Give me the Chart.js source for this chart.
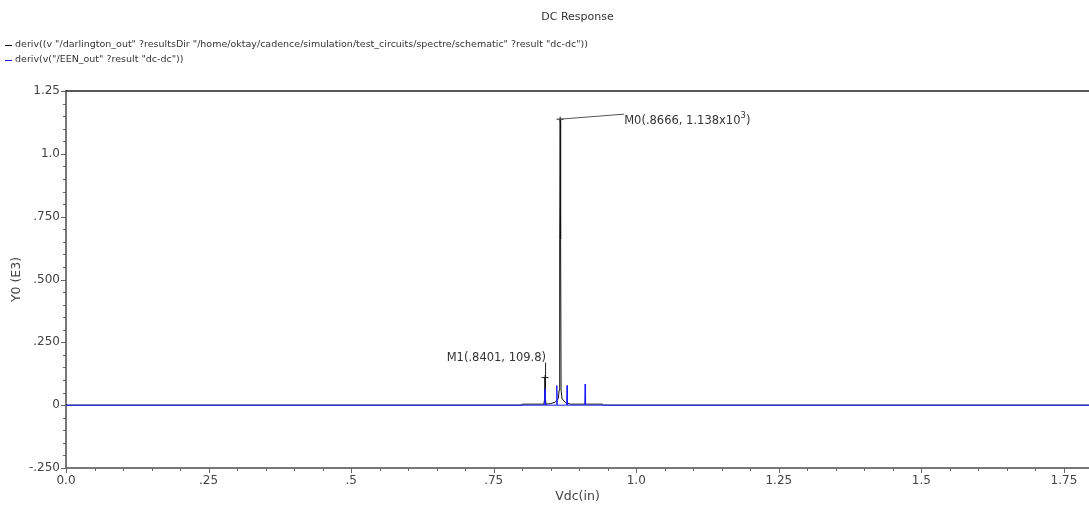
<!DOCTYPE html>
<html>
<head>
<meta charset="utf-8">
<title>DC Response</title>
<script src="https://cdn.jsdelivr.net/npm/chart.js@4/dist/chart.umd.min.js"></script>
<style>
	html, body { margin: 0; padding: 0; background: #fff; }
	#wrap { width: 1089px; height: 507px; position: relative; }
</style>
</head>
<body>
<div id="wrap"><canvas id="chart"></canvas></div>
<script>
// axis ranges and tick text (Y values are in units of 1e3)
const x_min = 0;
const x_max = 1.794;
const y_min = -0.25;
const y_max = 1.25;
const x_tick_labels = ["0.0", ".25", ".5", ".75", "1.0", "1.25", "1.5", "1.75"];
const y_tick_labels = ["-.250", "0", ".250", ".500", ".750", "1.0", "1.25"];

const chart_title = "DC Response";
const x_title = "Vdc(in)";
const y_title = "Y0 (E3)";

const series_names = [
	'deriv((v "/darlington_out" ?resultsDir "/home/oktay/cadence/simulation/test_circuits/spectre/schematic" ?result "dc-dc"))',
	'deriv(v("/EEN_out" ?result "dc-dc"))'
];
const series_colors = ["#111111", "#1a1aff"];

// d/dVin of darlington_out
const darlington_x = [0, 0.799, 0.800, 0.8380, 0.8397, 0.8401, 0.8405, 0.8420, 0.8500, 0.8580, 0.8630, 0.8650, 0.8655, 0.8661, 0.8666, 0.8671, 0.8677, 0.8682, 0.8700, 0.8760, 0.8850, 0.9410, 0.9420, 1.794];
const darlington_y = [0, 0, 0.004, 0.004, 0.03, 0.1098, 0.03, 0.004, 0.006, 0.012, 0.025, 0.06, 0.66, 0.66, 1.138, 0.66, 0.66, 0.06, 0.025, 0.010, 0.004, 0.004, 0, 0];

// d/dVin of EEN_out
const een_x = [0, 0.8395, 0.8401, 0.8407, 0.8600, 0.8607, 0.8614, 0.8780, 0.8787, 0.8794, 0.9097, 0.9104, 0.9111, 1.794];
const een_y = [0, 0, 0.065, 0, 0, 0.078, 0, 0, 0.078, 0, 0, 0.084, 0, 0];

// markers placed on the darlington trace
const marker_names = ["M0", "M1"];
const marker_x = [0.8666, 0.8401];
const marker_y = [1.138, 0.1098];

const font_family = "'DejaVu Sans', Verdana, sans-serif";
const text_color = "#333";

function to_points(xs, ys) {
	return xs.map((x, i) => ({ x: x, y: ys[i] }));
}

function short_num(v) {
	return v.toString().replace(/^0\./, ".");
}

function stroke_line(ctx, x1, y1, x2, y2) {
	ctx.beginPath();
	ctx.moveTo(x1, y1);
	ctx.lineTo(x2, y2);
	ctx.stroke();
}

function draw_cross(ctx, x, y) {
	stroke_line(ctx, x - 3.5, y, x + 3.5, y);
	stroke_line(ctx, x, y - 2.5, x, y + 2.5);
}

const decorations = {
	id: "decorations",
	afterDraw(chart) {
		const ctx = chart.ctx;
		const area = chart.chartArea;
		const xs = chart.scales.x;
		const ys = chart.scales.y;
		ctx.save();

		// frame line along the top of the plot
		ctx.strokeStyle = "#222";
		ctx.lineWidth = 1.5;
		stroke_line(ctx, area.left, area.top, area.right, area.top);

		// major/minor tick marks
		ctx.strokeStyle = "#666";
		ctx.lineWidth = 1;
		for (let i = 0; i * 0.05 <= x_max + 1e-9; i++) {
			const px = Math.round(xs.getPixelForValue(i * 0.05)) + 0.5;
			const len = i % 5 == 0 ? 5 : 3;
			stroke_line(ctx, px, area.bottom, px, area.bottom + len);
		}
		for (let i = 0; y_min + i * 0.05 <= y_max + 1e-9; i++) {
			const py = Math.round(ys.getPixelForValue(y_min + i * 0.05)) + 0.5;
			const len = i % 5 == 0 ? 5 : 3;
			stroke_line(ctx, area.left - len, py, area.left, py);
		}

		// title
		ctx.fillStyle = text_color;
		ctx.font = "11px " + font_family;
		ctx.textAlign = "center";
		ctx.textBaseline = "middle";
		ctx.fillText(chart_title, (area.left + area.right) / 2, 17);

		// legend rows
		ctx.font = "9.5px " + font_family;
		ctx.textAlign = "left";
		series_names.forEach((name, i) => {
			const y = 45 + i * 15;
			ctx.strokeStyle = series_colors[i];
			stroke_line(ctx, 5, y + 0.5, 12, y + 0.5);
			ctx.fillStyle = text_color;
			ctx.fillText(name, 15, y);
		});

		// markers with leader lines
		ctx.strokeStyle = "#222";
		ctx.fillStyle = text_color;
		ctx.font = "11.5px " + font_family;
		const mx0 = xs.getPixelForValue(marker_x[0]);
		const my0 = ys.getPixelForValue(marker_y[0]);
		draw_cross(ctx, mx0, my0);
		ctx.strokeStyle = "#555";
		stroke_line(ctx, mx0, my0, mx0 + 64, my0 - 5);
		let tx = mx0 + 64;
		const ty = my0 + 2;
		const head = marker_names[0] + "(" + short_num(marker_x[0]) + ", " + marker_y[0].toFixed(3) + "x10";
		ctx.textAlign = "left";
		ctx.fillText(head, tx, ty);
		tx += ctx.measureText(head).width;
		ctx.font = "8.5px " + font_family;
		ctx.fillText("3", tx, ty - 5);
		tx += ctx.measureText("3").width;
		ctx.font = "11.5px " + font_family;
		ctx.fillText(")", tx, ty);

		const mx1 = xs.getPixelForValue(marker_x[1]);
		const my1 = ys.getPixelForValue(marker_y[1]);
		ctx.strokeStyle = "#222";
		draw_cross(ctx, mx1, my1);
		stroke_line(ctx, mx1 + 0.5, my1, mx1 + 0.5, my1 - 15);
		ctx.textAlign = "right";
		const m1_text = marker_names[1] + "(" + short_num(marker_x[1]) + ", " + (marker_y[1] * 1000).toFixed(1) + ")";
		ctx.fillText(m1_text, mx1 + 1, my1 - 20);

		ctx.restore();
	}
};

const ctx = document.getElementById("chart");

const data = {
	datasets: [{
		label: series_names[0],
		data: to_points(darlington_x, darlington_y),
		borderColor: series_colors[0],
		borderWidth: 1,
		pointRadius: 0,
		showLine: true,
		order: 2
	}, {
		label: series_names[1],
		data: to_points(een_x, een_y),
		borderColor: series_colors[1],
		borderWidth: 1,
		pointRadius: 0,
		showLine: true,
		order: 1
	}]
};

const options = {
	responsive: true,
	maintainAspectRatio: false,
	animation: false,
	devicePixelRatio: 1,
	layout: {
		padding: { top: 91, left: 0, right: 0, bottom: 0 }
	},
	scales: {
		x: {
			type: "linear",
			min: x_min,
			max: x_max,
			afterFit: scale => { scale.height = 39; },
			grid: { display: false, drawTicks: false },
			border: { color: "#777", width: 2 },
			ticks: {
				stepSize: 0.25,
				includeBounds: false,
				autoSkip: false,
				maxRotation: 0,
				padding: 6,
				color: "#444",
				font: { family: font_family, size: 12 },
				callback: (value, index) => x_tick_labels[index]
			},
			title: {
				display: true,
				text: x_title,
				color: "#444",
				font: { family: font_family, size: 12.5 },
				padding: { top: 0, bottom: 3 }
			}
		},
		y: {
			type: "linear",
			min: y_min,
			max: y_max,
			afterFit: scale => { scale.width = 66; },
			grid: { display: false, drawTicks: false },
			border: { color: "#777", width: 2 },
			ticks: {
				stepSize: 0.25,
				includeBounds: false,
				autoSkip: false,
				padding: 6,
				color: "#444",
				font: { family: font_family, size: 12 },
				callback: (value, index) => y_tick_labels[index]
			},
			title: {
				display: true,
				text: y_title,
				color: "#444",
				font: { family: font_family, size: 12.5 },
				padding: { top: 9, bottom: 0 }
			}
		}
	},
	plugins: {
		legend: { display: false },
		title: { display: false },
		tooltip: { enabled: false }
	}
};

new Chart(ctx, {
	type: "scatter",
	data: data,
	options: options,
	plugins: [decorations]
});
</script>
</body>
</html>
